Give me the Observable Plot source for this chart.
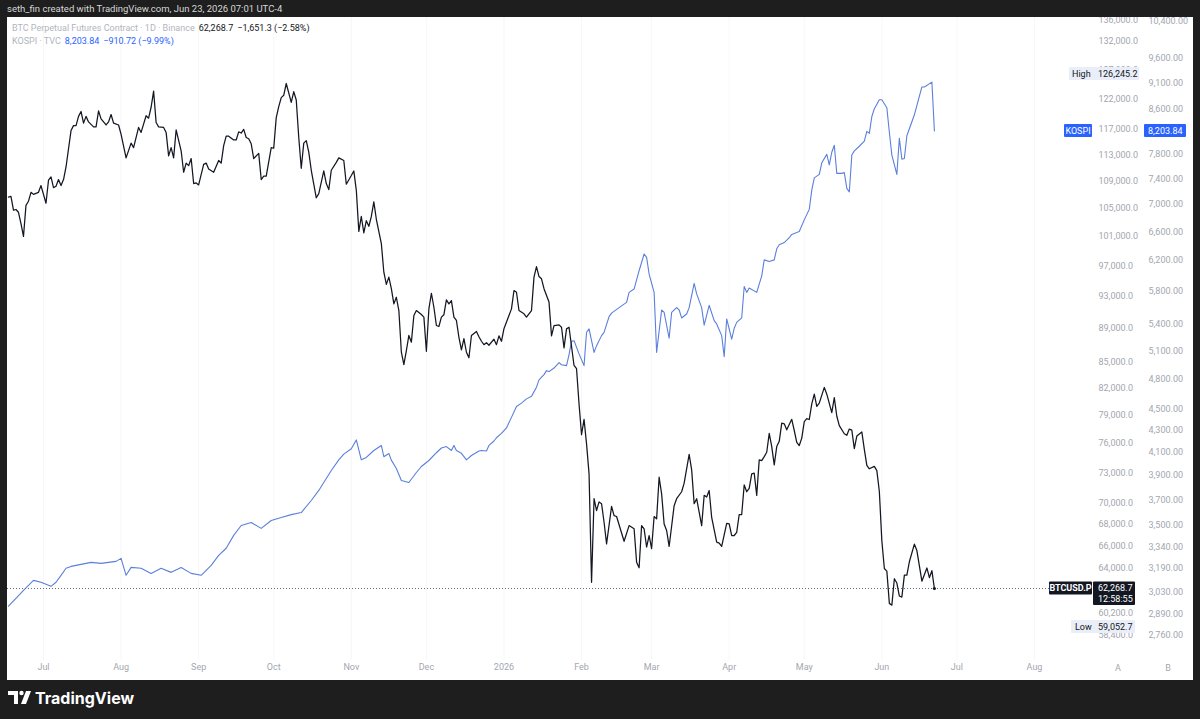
<!DOCTYPE html>
<html><head><meta charset="utf-8">
<script src="https://cdn.jsdelivr.net/npm/d3@7"></script>
<script src="https://cdn.jsdelivr.net/npm/@observablehq/plot@0.6"></script>
<style>
html,body{margin:0;padding:0;background:#1e1e1e;}
#wrap{position:relative;width:1200px;height:719px;background:#1e1e1e;overflow:hidden;font-family:Roboto,"Noto Sans",sans-serif;}
#hdr{position:absolute;left:7px;top:3px;font-size:9.5px;color:#d6d6d6;white-space:nowrap;}
#panel{position:absolute;left:7px;top:17px;width:1186px;height:663px;background:#fff;overflow:hidden;}
.layer{position:absolute;left:-7px;top:-17px;width:1200px;height:719px;}
#legend{position:absolute;left:5px;top:5px;font-size:9px;line-height:13px;white-space:nowrap;}
#legend span{margin-right:4px}
.muted{color:#b2b5be}
#footer{position:absolute;left:0;top:680px;width:1200px;height:39px;}
</style></head><body>
<div id="wrap">
  <div id="hdr"></div>
  <div id="panel">
    <div id="kospiLayer" class="layer"></div>
    <div id="btcLayer" class="layer"></div>
    <div id="labelLayer" class="layer"></div>
    <div id="legend"></div>
  </div>
  <div id="footer"></div>
</div>
<script>
// ---------- data ----------
const headerText = "seth_fin created with TradingView.com, Jun 23, 2026 07:01 UTC-4";
const btcName = "BTC Perpetual Futures Contract · 1D · Binance";
const kospiName = "KOSPI · TVC";
const btcLast = 62268.7, btcChange = -1651.3, btcChangePct = -2.58;
const kospiLast = 8203.84, kospiChange = -910.72, kospiChangePct = -9.99;
const btcHigh = 126245.2, btcLow = 59052.7;
const btcSymbol = "BTCUSD.P", btcCountdown = "12:58:55", kospiSymbol = "KOSPI";

const xDomain = ["2025-07-01", "2026-08-01"];
const monthTicks = ["2025-07-01","2025-08-01","2025-09-01","2025-10-01","2025-11-01","2025-12-01","2026-01-01","2026-02-01","2026-03-01","2026-04-01","2026-05-01","2026-06-01","2026-07-01","2026-08-01"];
const monthLabels = ["Jul","Aug","Sep","Oct","Nov","Dec","2026","Feb","Mar","Apr","May","Jun","Jul","Aug"];
const btcDomain = [58400, 132000];
const btcTicks = [58400,60200,64000,66000,68000,70000,73000,76000,79000,82000,85000,89000,93000,97000,101000,105000,109000,113000,117000,122000,127000,132000,136000];
const kospiDomain = [2760, 10400];
const kospiTicks = [2760,2890,3030,3190,3340,3500,3700,3900,4100,4300,4500,4800,5100,5400,5800,6200,6600,7000,7400,7800,8600,9100,9600,10400];

const btcDaily = [
["2025-06-17",106600],["2025-06-18",106700],["2025-06-19",104700],["2025-06-20",104800],["2025-06-21",104400],["2025-06-22",102800],["2025-06-23",101000],["2025-06-24",105400],["2025-06-25",106000],["2025-06-26",107300],["2025-06-27",107000],["2025-06-29",107300],["2025-06-30",108300],
["2025-07-02",105700],["2025-07-03",109100],["2025-07-04",109600],["2025-07-05",108000],["2025-07-06",108200],["2025-07-07",109200],["2025-07-08",108300],["2025-07-09",109200],["2025-07-10",111100],["2025-07-12",116800],["2025-07-13",117600],["2025-07-14",117600],["2025-07-15",119100],["2025-07-16",119900],["2025-07-17",118000],["2025-07-18",119100],["2025-07-19",118200],["2025-07-21",117400],["2025-07-22",117400],["2025-07-23",120000],["2025-07-24",118700],["2025-07-26",117700],["2025-07-27",118200],["2025-07-28",119400],["2025-07-29",118000],["2025-07-31",117700],
["2025-08-01",116200],["2025-08-03",112500],["2025-08-05",114800],["2025-08-06",114100],["2025-08-08",117300],["2025-08-09",116500],["2025-08-11",119200],["2025-08-12",118800],["2025-08-13",120600],["2025-08-14",123300],["2025-08-15",118100],["2025-08-16",117400],["2025-08-18",117300],["2025-08-19",116500],["2025-08-20",112800],["2025-08-21",114100],["2025-08-22",112500],["2025-08-23",116900],["2025-08-25",113600],["2025-08-26",110300],["2025-08-27",111700],["2025-08-28",111300],["2025-08-29",112400],["2025-08-30",108600],["2025-08-31",108700],
["2025-09-01",108400],["2025-09-03",111500],["2025-09-04",111700],["2025-09-05",110800],["2025-09-07",110300],["2025-09-09",112100],["2025-09-10",111700],["2025-09-11",114400],["2025-09-12",115900],["2025-09-13",115900],["2025-09-15",115300],["2025-09-16",115300],["2025-09-17",116600],["2025-09-18",116400],["2025-09-19",117000],["2025-09-20",115700],["2025-09-21",115500],["2025-09-22",114700],["2025-09-23",112400],["2025-09-25",113200],["2025-09-26",109200],["2025-09-27",109700],["2025-09-28",109700],["2025-09-30",114100],
["2025-10-01",114000],["2025-10-02",118900],["2025-10-03",120700],["2025-10-04",122200],["2025-10-05",122600],["2025-10-06",124600],["2025-10-08",121400],["2025-10-09",123200],["2025-10-10",121800],["2025-10-11",115700],["2025-10-12",110900],["2025-10-13",114800],["2025-10-14",115200],["2025-10-15",113400],["2025-10-16",110600],["2025-10-18",106500],["2025-10-19",107100],["2025-10-21",110500],["2025-10-22",108600],["2025-10-23",107700],["2025-10-24",110600],["2025-10-26",111800],["2025-10-27",112500],["2025-10-29",112100],["2025-10-30",108500],
["2025-11-01",109800],["2025-11-02",110500],["2025-11-03",107600],["2025-11-04",101700],["2025-11-05",103800],["2025-11-06",101500],["2025-11-07",103200],["2025-11-08",102400],["2025-11-09",103800],["2025-11-10",105900],["2025-11-11",103400],["2025-11-13",100000],["2025-11-14",96150],["2025-11-15",94560],["2025-11-16",95500],["2025-11-17",94000],["2025-11-18",92060],["2025-11-19",92900],["2025-11-20",91220],["2025-11-21",86140],["2025-11-22",84700],["2025-11-23",86340],["2025-11-24",88150],["2025-11-25",87340],["2025-11-26",90600],["2025-11-27",91220],["2025-11-29",90720],["2025-11-30",90400],
["2025-12-01",86250],["2025-12-02",91430],["2025-12-03",93410],["2025-12-04",91630],["2025-12-05",89360],["2025-12-06",89240],["2025-12-07",90400],["2025-12-08",90700],["2025-12-09",92570],["2025-12-10",92060],["2025-12-11",92480],["2025-12-12",90400],["2025-12-13",89980],["2025-12-14",87920],["2025-12-15",86420],["2025-12-16",87760],["2025-12-17",86140],["2025-12-18",85490],["2025-12-19",88150],["2025-12-21",88630],["2025-12-22",87990],["2025-12-23",87450],["2025-12-24",87040],["2025-12-25",87280],["2025-12-26",86970],["2025-12-28",87700],["2025-12-29",87040],["2025-12-30",88100],["2025-12-31",87450],
["2026-01-01",88970],["2026-01-03",90600],["2026-01-04",91430],["2026-01-05",93760],["2026-01-06",93540],["2026-01-07",91220],["2026-01-09",90810],["2026-01-10",90400],["2026-01-12",91220],["2026-01-13",95500],["2026-01-14",96900],["2026-01-15",95580],["2026-01-16",95280],["2026-01-17",94000],["2026-01-19",92300],["2026-01-20",88100],["2026-01-21",89360],["2026-01-23",89440],["2026-01-24",89150],["2026-01-25",86660],["2026-01-26",88950],["2026-01-27",89150],["2026-01-29",84590],["2026-01-30",84210],["2026-01-31",80230],
["2026-02-01",76910],["2026-02-02",78560],["2026-02-03",75950],["2026-02-04",72890],["2026-02-05",62800],["2026-02-06",70440],["2026-02-07",69310],["2026-02-08",70130],["2026-02-09",69960],["2026-02-10",68200],["2026-02-11",66200],["2026-02-13",69700],["2026-02-14",68830],["2026-02-15",68740],["2026-02-18",66440],["2026-02-20",67890],["2026-02-22",67590],["2026-02-23",64560],["2026-02-24",64070],["2026-02-25",67890],["2026-02-26",67590],["2026-02-27",65920],["2026-02-28",66970],
["2026-03-01",65780],["2026-03-02",68740],["2026-03-03",68520],["2026-03-04",72550],["2026-03-05",70910],["2026-03-06",68040],["2026-03-07",67430],["2026-03-08",65970],["2026-03-10",69770],["2026-03-11",70440],["2026-03-13",71120],["2026-03-14",71960],["2026-03-16",74870],["2026-03-17",73290],["2026-03-18",69960],["2026-03-19",70440],["2026-03-21",67890],["2026-03-22",70770],["2026-03-23",70600],["2026-03-24",71240],["2026-03-25",68660],["2026-03-27",66370],["2026-03-28",66280],["2026-03-29",65970],["2026-03-31",68100],
["2026-04-01",68040],["2026-04-02",66970],["2026-04-03",66970],["2026-04-04",67260],["2026-04-05",68930],["2026-04-06",68930],["2026-04-07",71790],["2026-04-08",71120],["2026-04-09",71450],["2026-04-10",72890],["2026-04-11",72960],["2026-04-12",70770],["2026-04-13",74300],["2026-04-14",74230],["2026-04-15",74640],["2026-04-16",75080],["2026-04-17",77060],["2026-04-18",75670],["2026-04-19",73800],["2026-04-20",75670],["2026-04-21",76220],["2026-04-22",78140],["2026-04-23",78080],["2026-04-24",77430],["2026-04-26",78560],["2026-04-27",77360],["2026-04-28",76120],["2026-04-29",75780],["2026-04-30",76560],
["2026-05-01",78320],["2026-05-02",78640],["2026-05-03",78540],["2026-05-04",80240],["2026-05-05",81320],["2026-05-06",79970],["2026-05-07",80320],["2026-05-09",82080],["2026-05-10",81320],["2026-05-12",79280],["2026-05-13",80940],["2026-05-14",78890],["2026-05-15",77880],["2026-05-17",77020],["2026-05-18",76850],["2026-05-19",77510],["2026-05-20",77400],["2026-05-21",75450],["2026-05-22",76770],["2026-05-24",77210],["2026-05-25",75380],["2026-05-26",73750],["2026-05-27",73400],["2026-05-29",73640],["2026-05-30",73220],["2026-05-31",71140],
["2026-06-01",66490],["2026-06-02",64000],["2026-06-03",63770],["2026-06-04",61010],["2026-06-05",60860],["2026-06-06",63110],["2026-06-07",62740],["2026-06-08",61630],["2026-06-09",61540],["2026-06-10",63420],["2026-06-11",63420],["2026-06-12",64600],["2026-06-14",66180],["2026-06-15",65600],["2026-06-17",62900],["2026-06-19",64050],["2026-06-20",63200],["2026-06-21",63820],["2026-06-22",62268.7]
];

const kospiDaily = [
["2025-06-17",2940],["2025-06-20",2991],["2025-06-23",3043],["2025-06-25",3076],["2025-06-27",3109],["2025-06-30",3096],
["2025-07-04",3069],["2025-07-06",3096],["2025-07-08",3143],["2025-07-10",3191],["2025-07-12",3204],["2025-07-16",3218],["2025-07-20",3232],["2025-07-24",3225],["2025-07-30",3239],
["2025-08-01",3260],["2025-08-03",3143],["2025-08-05",3197],["2025-08-09",3191],["2025-08-13",3156],["2025-08-17",3191],["2025-08-21",3163],["2025-08-25",3197],["2025-08-29",3156],
["2025-09-02",3143],["2025-09-06",3211],["2025-09-09",3281],["2025-09-12",3332],["2025-09-15",3426],["2025-09-18",3500],["2025-09-22",3523],["2025-09-26",3478],["2025-09-30",3538],
["2025-10-04",3560],["2025-10-08",3583],["2025-10-12",3599],["2025-10-16",3694],["2025-10-19",3775],["2025-10-22",3874],["2025-10-24",3941],["2025-10-27",4033],["2025-10-29",4083],
["2025-11-01",4130],["2025-11-03",4210],["2025-11-05",4033],["2025-11-07",4054],["2025-11-10",4115],["2025-11-13",4160],["2025-11-14",4060],["2025-11-16",4088],["2025-11-17",4030],["2025-11-19",3958],["2025-11-21",3857],["2025-11-24",3840],["2025-11-27",3924],["2025-11-29",3975],
["2025-12-02",4027],["2025-12-05",4095],["2025-12-07",4137],["2025-12-09",4150],["2025-12-11",4115],["2025-12-12",4160],["2025-12-13",4115],["2025-12-15",4090],["2025-12-17",4033],["2025-12-19",4071],["2025-12-22",4110],["2025-12-23",4115],["2025-12-25",4110],["2025-12-26",4160],["2025-12-28",4200],["2025-12-29",4230],["2025-12-31",4270],
["2026-01-02",4320],["2026-01-04",4420],["2026-01-06",4525],["2026-01-08",4558],["2026-01-10",4600],["2026-01-12",4625],["2026-01-14",4718],["2026-01-15",4792],["2026-01-17",4847],["2026-01-18",4889],["2026-01-19",4879],["2026-01-21",4917],["2026-01-23",4975],["2026-01-24",4952],["2026-01-26",4942],["2026-01-27",5062],["2026-01-28",5208],["2026-01-29",5216],["2026-01-31",5069],
["2026-02-02",4942],["2026-02-03",5311],["2026-02-04",5350],["2026-02-06",5086],["2026-02-07",5160],["2026-02-09",5273],["2026-02-10",5311],["2026-02-12",5493],["2026-02-13",5535],["2026-02-16",5601],["2026-02-19",5666],["2026-02-20",5789],["2026-02-22",5831],["2026-02-24",6066],["2026-02-26",6289],["2026-02-27",6243],["2026-02-28",6023],
["2026-03-02",5789],["2026-03-03",5086],["2026-03-05",5573],["2026-03-06",5544],["2026-03-08",5243],["2026-03-09",5544],["2026-03-11",5601],["2026-03-12",5573],["2026-03-13",5478],["2026-03-15",5525],["2026-03-16",5601],["2026-03-18",5902],["2026-03-19",5770],["2026-03-21",5601],["2026-03-22",5393],["2026-03-24",5630],["2026-03-26",5446],["2026-03-27",5408],["2026-03-29",5273],["2026-03-30",5039],["2026-03-31",5466],
["2026-04-02",5232],["2026-04-03",5357],["2026-04-04",5426],["2026-04-06",5478],["2026-04-07",5863],["2026-04-08",5789],["2026-04-09",5843],["2026-04-12",5789],["2026-04-14",6000],["2026-04-15",6210],["2026-04-17",6189],["2026-04-19",6210],["2026-04-20",6360],["2026-04-21",6415],["2026-04-23",6446],["2026-04-25",6514],["2026-04-26",6561],["2026-04-28",6588],["2026-04-29",6603],
["2026-05-01",6770],["2026-05-03",6925],["2026-05-04",7219],["2026-05-05",7413],["2026-05-07",7469],["2026-05-08",7658],["2026-05-10",7798],["2026-05-11",7624],["2026-05-12",7834],["2026-05-13",7953],["2026-05-14",7485],["2026-05-16",7485],["2026-05-17",7497],["2026-05-18",7247],["2026-05-19",7191],["2026-05-20",7786],["2026-05-21",7857],["2026-05-23",7936],["2026-05-25",8025],["2026-05-26",8196],["2026-05-27",8160],["2026-05-28",8463],["2026-05-29",8605],["2026-05-31",8775],
["2026-06-01",8775],["2026-06-03",8625],["2026-06-04",8180],["2026-06-05",7786],["2026-06-07",7469],["2026-06-08",8073],["2026-06-09",7716],["2026-06-10",7728],["2026-06-11",8117],["2026-06-14",8494],["2026-06-17",9020],["2026-06-18",9020],["2026-06-21",9115],["2026-06-22",8203.84]
];

// ---------- colours / style ----------
const BTC_COLOR = "#131722", KOSPI_COLOR = "#5b7fdb", KOSPI_TAG = "#2962ff";
const AXIS_TEXT = "#a3a6af", FONT = "Roboto, 'Noto Sans', sans-serif";
const W = 1200, H = 719;

const parse = d3.utcParse("%Y-%m-%d");
const btc = btcDaily.map(([d, v]) => ({date: parse(d), close: v}));
const kospi = kospiDaily.map(([d, v]) => ({date: parse(d), close: v}));
const tickDates = monthTicks.map(parse);
const tickLabel = new Map(tickDates.map((d, i) => [+d, monthLabels[i]]));
const xOpts = {type: "utc", domain: xDomain.map(parse), range: [43, 1034]};
const fmt1 = d3.format(",.1f"), fmt2 = d3.format(",.2f");
const baseStyle = {background: "transparent", fontFamily: FONT, fontSize: "9px", overflow: "visible"};

// KOSPI layer (right-most scale B)
const kospiPlot = Plot.plot({
  width: W, height: H, marginLeft: 7, marginRight: 52, marginTop: 17, marginBottom: 59,
  style: baseStyle,
  x: {...xOpts, axis: null},
  y: {type: "log", domain: kospiDomain, range: [635, 20.5]},
  marks: [
    Plot.axisY(kospiTicks, {anchor: "right", tickSize: 0, tickPadding: 0, textAnchor: "start", tickFormat: fmt2, color: AXIS_TEXT}),
    Plot.line(kospi, {x: "date", y: "close", stroke: KOSPI_COLOR, strokeWidth: 1.1})
  ]
});
document.getElementById("kospiLayer").append(kospiPlot);

// BTC layer (scale A)
const btcPlot = Plot.plot({
  width: W, height: H, marginLeft: 7, marginRight: 102, marginTop: 17, marginBottom: 59,
  style: baseStyle,
  x: xOpts,
  y: {type: "log", domain: btcDomain, range: [634.7, 41]},
  marks: [
    Plot.gridX(tickDates, {stroke: "#2a2e39", strokeOpacity: 0.04}),
    Plot.axisX(tickDates, {anchor: "bottom", tickSize: 0, tickPadding: 3, tickFormat: d => tickLabel.get(+d), color: AXIS_TEXT}),
    Plot.axisY(btcTicks, {anchor: "right", tickSize: 0, tickPadding: 0, textAnchor: "start", tickFormat: fmt1, color: AXIS_TEXT}),
    Plot.ruleY([btcLast], {stroke: "#6a6d78", strokeDasharray: "1,2", strokeWidth: 1}),
    Plot.line(btc, {x: "date", y: "close", stroke: BTC_COLOR, strokeWidth: 1.25}),
    Plot.dot([btc[btc.length - 1]], {x: "date", y: "close", r: 1.6, fill: BTC_COLOR})
  ]
});
document.getElementById("btcLayer").append(btcPlot);

// ---------- price-scale tags, placed with the plots' own scales ----------
const yB = btcPlot.scale("y"), yK = kospiPlot.scale("y");
const ov = d3.create("svg").attr("width", W).attr("height", H)
  .style("font-family", FONT).style("font-size", "9px").style("display", "block");
function box(x0, x1, y0, y1, fill) {
  ov.append("rect").attr("x", x0).attr("y", y0).attr("width", x1 - x0).attr("height", y1 - y0).attr("fill", fill).attr("rx", 1);
}
function txt(x, y, s, fill, anchor = "start", weight = "normal") {
  ov.append("text").attr("x", x).attr("y", y).attr("dy", "0.35em").attr("text-anchor", anchor)
    .attr("fill", fill).attr("font-weight", weight).text(s);
}
const yh = yB.apply(btcHigh);
box(1069, 1139, yh - 6.5, yh + 6.5, "#eaeef8");
txt(1072, yh, "High", "#131722"); txt(1098, yh, fmt1(btcHigh), "#131722");
const yl = yB.apply(btcLow);
box(1071, 1135, yl - 6.5, yl + 6.5, "#eaeef8");
txt(1075, yl, "Low", "#131722"); txt(1098, yl, fmt1(btcLow), "#131722");
const ylast = yB.apply(btcLast);
box(1049, 1092, ylast - 6.5, ylast + 6.5, "#131722");
txt(1070.5, ylast, btcSymbol, "#ffffff", "middle", "bold");
box(1093, 1135, ylast - 6.5, ylast + 17, "#131722");
txt(1098, ylast, fmt1(btcLast), "#ffffff");
txt(1098, ylast + 11, btcCountdown, "#ffffff");
const yk = yK.apply(kospiLast);
box(1064, 1092, yk - 6.5, yk + 6.5, KOSPI_TAG);
txt(1078, yk, kospiSymbol, "#ffffff", "middle");
box(1144, 1186, yk - 6.5, yk + 6.5, KOSPI_TAG);
txt(1148, yk, fmt2(kospiLast), "#ffffff");
txt(1118, 668, "A", AXIS_TEXT, "middle");
txt(1168, 668, "B", AXIS_TEXT, "middle");
document.getElementById("labelLayer").append(ov.node());

// ---------- header, legend, footer ----------
document.getElementById("hdr").textContent = headerText;
const minus = s => s.replace("-", "\u2212");
const sgn = v => (v < 0 ? "\u2212" : "+");
document.getElementById("legend").innerHTML =
  `<div><span class="muted">${btcName}</span><span style="color:#131722">${fmt1(btcLast)}</span><span style="color:#131722">${minus(fmt1(btcChange))} (${sgn(btcChangePct)}${Math.abs(btcChangePct).toFixed(2)}%)</span></div>` +
  `<div><span class="muted">${kospiName}</span><span style="color:${KOSPI_TAG}">${fmt2(kospiLast)}</span><span style="color:${KOSPI_TAG}">${minus(fmt2(kospiChange))} (${sgn(kospiChangePct)}${Math.abs(kospiChangePct).toFixed(2)}%)</span></div>`;

const foot = d3.select("#footer").append("svg").attr("width", W).attr("height", 39);
const logo = foot.append("g").attr("fill", "#ffffff");
logo.append("path").attr("d", "M8 11 H18 V24 H14 V15 H8 Z");
logo.append("circle").attr("cx", 21.5).attr("cy", 13).attr("r", 2.2);
logo.append("path").attr("d", "M26 11 H31 L26 24 H21 Z");
foot.append("text").attr("x", 35).attr("y", 23.5).attr("fill", "#ffffff")
  .attr("font-family", "Inter, Roboto, sans-serif").attr("font-weight", 700).attr("font-size", "16px")
  .text("TradingView");
</script>
</body></html>
